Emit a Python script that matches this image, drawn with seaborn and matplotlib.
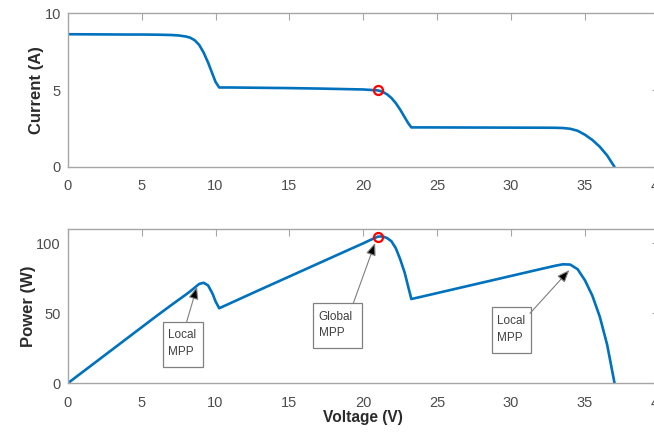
import matplotlib
matplotlib.use("Agg")
import matplotlib.pyplot as plt
from matplotlib.patches import Rectangle
import seaborn as sns
import pandas as pd

# ---- data ----
voltage = [0, 2, 4, 5, 6, 7, 7.5, 8, 8.3, 8.6, 8.9, 9.2, 9.5, 9.8, 10.0, 10.25,
           11, 13, 15, 17, 19, 20, 20.5, 21, 21.3, 21.6, 21.9, 22.2, 22.5, 22.8, 23.05, 23.25,
           24, 26, 28, 30, 32, 33, 33.5, 34, 34.5, 35, 35.5, 36, 36.5, 37.0]
current = [8.65, 8.64, 8.63, 8.63, 8.62, 8.6, 8.57, 8.5, 8.42, 8.25, 7.95, 7.45, 6.8, 6.05, 5.55, 5.18,
           5.18, 5.16, 5.14, 5.11, 5.07, 5.05, 5.02, 4.99, 4.9, 4.74, 4.5, 4.16, 3.73, 3.24, 2.84, 2.58,
           2.58, 2.575, 2.57, 2.565, 2.56, 2.555, 2.54, 2.49, 2.36, 2.10, 1.76, 1.32, 0.75, 0.0]
power = [0, 16.0, 32.0, 40.0, 48.0, 55.8, 59.6, 63.4, 65.8, 68.4, 71.0, 71.8, 69.9, 64.0, 58.6, 53.6,
         57.2, 66.8, 76.3, 85.8, 95.3, 100.0, 102.5, 104.8, 104.9, 103.8, 101.5, 96.5, 88.5, 79.0, 68.5, 60.2,
         62.0, 66.9, 71.8, 76.7, 81.6, 84.0, 85.0, 84.8, 81.5, 73.5, 62.5, 47.6, 27.5, 0.0]

mpp_v, mpp_i, mpp_p = 21.0, 4.99, 104.8

annot_texts = ["Local\nMPP", "Global\nMPP", "Local\nMPP"]
annot_tips = [(8.75, 69.0), (20.8, 100.3), (33.94, 80.9)]

x_ticks = [0, 5, 10, 15, 20, 25, 30, 35, 40]
i_ticks = [0, 5, 10]
p_ticks = [0, 50, 100]

df = pd.DataFrame({"V": voltage, "I": current, "P": power})

# ---- style ----
sns.set_style("white")
plt.rcParams["font.family"] = ["Liberation Sans", "DejaVu Sans"]

W, H = 654, 436
fig = plt.figure(figsize=(W / 100, H / 100), dpi=100)

def px_axes(left, top, right, bottom):
    return fig.add_axes([left / W, 1 - bottom / H, (right - left) / W, (bottom - top) / H])

ax1 = px_axes(67.7, 13.5, 658.9, 167.0)
ax2 = px_axes(67.7, 229.3, 658.9, 383.3)

line_c = "#0072BD"
spine_c = "#a6a6a6"
text_c = "#4d4d4d"
label_c = "#2b2b2b"

sns.lineplot(data=df, x="V", y="I", ax=ax1, sort=False, color=line_c, lw=1.9)
sns.lineplot(data=df, x="V", y="P", ax=ax2, sort=False, color=line_c, lw=1.9)

ax1.plot([mpp_v], [mpp_i], "o", mfc="none", mec="red", mew=1.6, ms=6.5, zorder=5)
ax2.plot([mpp_v], [mpp_p], "o", mfc="none", mec="red", mew=1.6, ms=6.5, zorder=5)

for ax, yt, ylim in [(ax1, i_ticks, (0, 10)), (ax2, p_ticks, (0, 110))]:
    ax.set_xlim(0, 40)
    ax.set_ylim(*ylim)
    ax.set_xticks(x_ticks)
    ax.set_yticks(yt)
    ax.tick_params(direction="in", length=5, width=0.8, color=spine_c,
                   labelcolor=text_c, labelsize=10.5, top=True, right=True)
    ax.tick_params(axis="x", pad=9)
    ax.tick_params(axis="y", pad=5)
    for s in ax.spines.values():
        s.set_color(spine_c)
        s.set_linewidth(1.0)
        s.set_visible(True)
    ax.set_xlabel("")

ax1.set_ylabel("Current (A)", fontsize=12, fontweight="bold", color=label_c, labelpad=0)
ax2.set_ylabel("Power (W)", fontsize=12, fontweight="bold", color=label_c, labelpad=0)
ax2.set_xlabel("Voltage (V)", fontsize=11.2, fontweight="bold", color=label_c, labelpad=0)

# annotation boxes in data coords: (x0, x1, y0, y1)
boxes = [(6.45, 9.13, 11.9, 44.0), (16.62, 19.89, 25.0, 57.1), (28.69, 31.33, 21.4, 54.7)]
arrow_start = [(8.05, 44.0), (19.32, 57.1), (31.28, 50.0)]
for txt, (x0, x1, y0, y1), st, tip in zip(annot_texts, boxes, arrow_start, annot_tips):
    ax2.add_patch(Rectangle((x0, y0), x1 - x0, y1 - y0, fc="white", ec="#808080",
                            lw=0.9, zorder=3))
    ax2.text(x0 + 0.36, (y0 + y1) / 2 + 0.5, txt, ha="left", va="center", fontsize=8.5,
             color="#404040", linespacing=1.5, zorder=4)
    ax2.annotate("", xy=tip, xytext=st,
                 arrowprops=dict(arrowstyle="-|>,head_length=0.75,head_width=0.3",
                                 fc="black", ec="#7f7f7f", lw=0.8, shrinkA=0, shrinkB=0),
                 zorder=4)

fig.savefig("out.png", dpi=100)
